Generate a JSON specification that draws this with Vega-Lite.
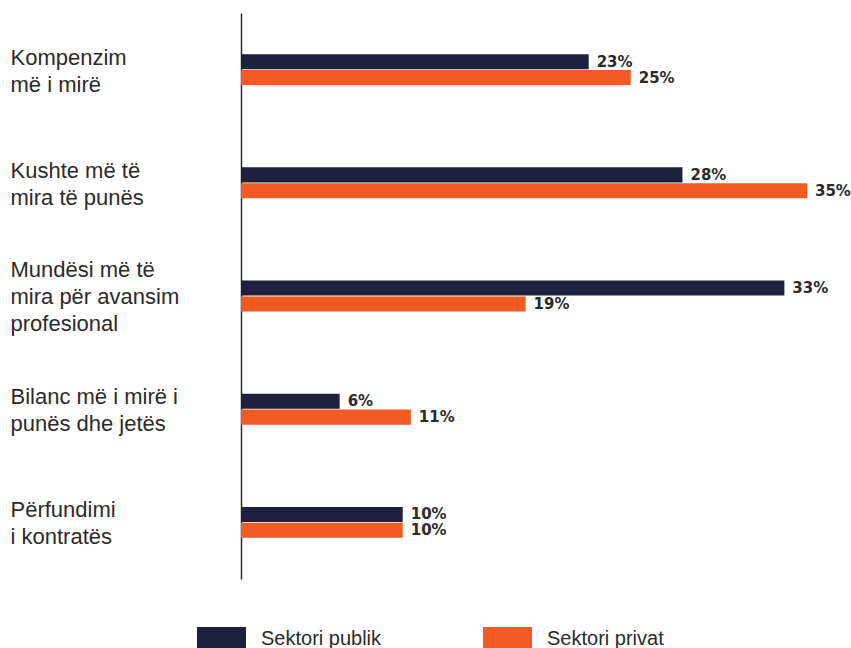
{
  "$schema": "https://vega.github.io/schema/vega-lite/v6.json",
  "autosize": {"type": "none"},
  "width": 566,
  "height": 566,
  "padding": {"left": 241, "top": 13, "right": 44, "bottom": 69},
  "background": "white",
  "config": {"view": {"stroke": null}},
  "data": {
    "values": [
      {"cat": "Kompenzim\nmë i mirë", "sector": "Sektori publik", "value": 21.5, "label": "23%"},
      {"cat": "Kompenzim\nmë i mirë", "sector": "Sektori privat", "value": 24.1, "label": "25%"},
      {"cat": "Kushte më të\nmira të punës", "sector": "Sektori publik", "value": 27.3, "label": "28%"},
      {"cat": "Kushte më të\nmira të punës", "sector": "Sektori privat", "value": 35.0, "label": "35%"},
      {"cat": "Mundësi më të\nmira për avansim\nprofesional", "sector": "Sektori publik", "value": 33.6, "label": "33%"},
      {"cat": "Mundësi më të\nmira për avansim\nprofesional", "sector": "Sektori privat", "value": 17.6, "label": "19%"},
      {"cat": "Bilanc më i mirë i\npunës dhe jetës", "sector": "Sektori publik", "value": 6.1, "label": "6%"},
      {"cat": "Bilanc më i mirë i\npunës dhe jetës", "sector": "Sektori privat", "value": 10.5, "label": "11%"},
      {"cat": "Përfundimi\ni kontratës", "sector": "Sektori publik", "value": 10.0, "label": "10%"},
      {"cat": "Përfundimi\ni kontratës", "sector": "Sektori privat", "value": 10.0, "label": "10%"}
    ]
  },
  "encoding": {
    "y": {
      "field": "cat",
      "type": "nominal",
      "sort": null,
      "scale": {"paddingInner": 0.727, "paddingOuter": 0.3635},
      "axis": {
        "title": null,
        "ticks": false,
        "tickSize": 0,
        "labelAlign": "left",
        "labelBaseline": "middle",
        "labelPadding": 231,
        "labelExpr": "split(datum.label, '\\n')",
        "labelLineHeight": 27,
        "labelOffset": {"condition": {"test": "indexof(datum.label, 'profesional') >= 0", "value": -26}, "value": -12},
        "labelFont": "Liberation Sans",
        "labelFontSize": 22,
        "labelColor": "#2b2b2b",
        "labelLimit": 300,
        "domainColor": "#2b2b2b",
        "domainWidth": 1.5
      }
    },
    "yOffset": {
      "field": "sector",
      "type": "nominal",
      "sort": ["Sektori publik", "Sektori privat"],
      "scale": {"paddingInner": 0.05}
    },
    "x": {
      "field": "value",
      "type": "quantitative",
      "scale": {"domain": [0, 35], "nice": false},
      "axis": null
    }
  },
  "layer": [
    {
      "mark": {"type": "bar"},
      "encoding": {
        "color": {
          "field": "sector",
          "type": "nominal",
          "scale": {"domain": ["Sektori publik", "Sektori privat"], "range": ["#1f203d", "#f15a22"]},
          "legend": {
            "title": null,
            "orient": "none",
            "direction": "horizontal",
            "legendX": -44,
            "legendY": 601.5,
            "symbolType": "M-1,-0.5H1V0.5H-1Z",
            "symbolSize": 2401,
            "symbolStrokeWidth": 0,
            "symbolOpacity": 1,
            "labelFont": "Liberation Sans",
            "labelFontSize": 20,
            "labelColor": "#2b2b2b",
            "labelOffset": 15,
            "columnPadding": 101,
            "padding": 0
          }
        }
      }
    },
    {
      "mark": {"type": "text", "align": "left", "baseline": "middle", "dx": 8, "font": "DejaVu Sans", "fontWeight": "bold", "fontSize": 15, "color": "#2b2b2b"},
      "encoding": {"text": {"field": "label"}}
    }
  ]
}
